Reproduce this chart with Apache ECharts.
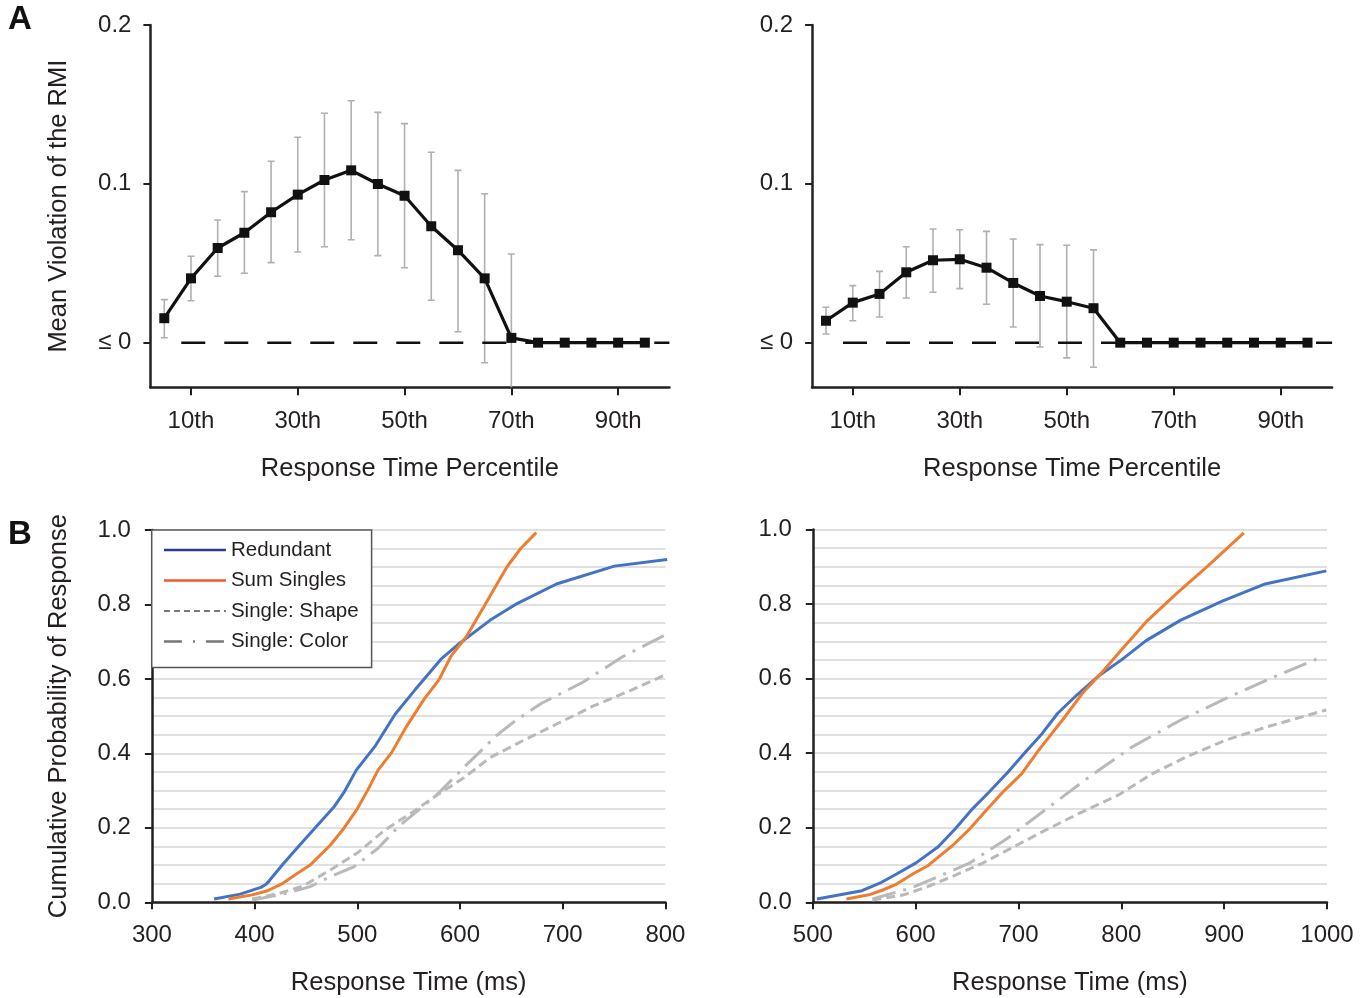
<!DOCTYPE html>
<html><head><meta charset="utf-8">
<script src="https://cdn.jsdelivr.net/npm/echarts@6.0.0/dist/echarts.min.js"></script>
<style>html,body{margin:0;padding:0;background:#fff}#c{width:1372px;height:998px}</style>
</head><body><div id="c"></div><script>
// ---------- Panel A data ----------
const percentiles = [5,10,15,20,25,30,35,40,45,50,55,60,65,70,75,80,85,90,95];
const percentileTicks = [10,30,50,70,90];
const meanLeftA = [0.0154,0.0405,0.0596,0.0692,0.0821,0.0932,0.1024,0.1085,0.0999,0.0925,0.0733,0.0582,0.0405,0.0030,0,0,0,0,0];
const upperLeftA = [0.0271,0.0544,0.0772,0.0951,0.1142,0.1293,0.1444,0.1523,0.1450,0.1379,0.1199,0.1085,0.0938,0.0558];
const lowerLeftA = [0.0031,0.0264,0.0418,0.0437,0.0504,0.0571,0.0604,0.0648,0.0548,0.0472,0.0267,0.0069,-0.0126,-0.035];
const meanRightA = [0.0138,0.0252,0.0307,0.0443,0.0519,0.0525,0.0472,0.0376,0.0294,0.0258,0.0217,0,0,0,0,0,0,0,0];
const upperRightA = [0.0223,0.0359,0.0449,0.0604,0.0716,0.0711,0.0701,0.0653,0.0617,0.0613,0.0584];
const lowerRightA = [0.0055,0.0138,0.0162,0.0281,0.0317,0.0340,0.0242,0.0099,-0.0027,-0.0096,-0.0155];
const yTicksA = [0, 0.1, 0.2];
const zeroLineRange = [5, 99.6];

// ---------- Panel B data: [ms, cumulative probability] ----------
const redundantLeft = [[360.6,0.009],[386,0.022],[406,0.040],[411.6,0.049],[427.5,0.102],[444,0.154],[460.6,0.205],[477,0.255],[487,0.295],[499,0.355],[517,0.418],[536.8,0.505],[556.6,0.572],[581.5,0.653],[599.7,0.696],[629.5,0.758],[656,0.803],[694,0.855],[750.3,0.903],[801.7,0.921]];
const sumSinglesLeft = [[374.5,0.009],[397.7,0.020],[412.6,0.031],[427.5,0.051],[440.7,0.076],[454,0.100],[473.8,0.154],[487,0.199],[499.3,0.248],[510.3,0.302],[520.2,0.355],[533.4,0.402],[546.7,0.467],[564.9,0.545],[579.8,0.599],[591.4,0.662],[606.3,0.714],[622.8,0.792],[636,0.855],[646,0.902],[659.3,0.951],[674.2,0.993]];
const shapeLeft = [[397.7,0.009],[424.2,0.024],[447.4,0.044],[473.8,0.087],[500.3,0.133],[526.8,0.194],[553.3,0.241],[576.5,0.286],[603,0.333],[629.5,0.389],[662.6,0.436],[695.7,0.481],[728.8,0.526],[765.2,0.568],[801.7,0.613]];
const colorLeft = [[397.7,0.006],[430.8,0.024],[454,0.042],[473.8,0.069],[497,0.096],[520.2,0.145],[540,0.203],[576.5,0.286],[606.3,0.369],[636,0.449],[652.6,0.485],[679,0.534],[718.9,0.590],[758.6,0.660],[801.7,0.721]];
const redundantRight = [[504,0.009],[547.8,0.031],[566.4,0.053],[581.5,0.076],[600,0.105],[622,0.149],[638.8,0.198],[655.7,0.252],[670.8,0.294],[689.4,0.348],[706.2,0.401],[723.1,0.453],[738.2,0.507],[756.7,0.556],[776.9,0.605],[800.5,0.651],[824.1,0.702],[857.8,0.757],[898.2,0.808],[938.7,0.853],[999.3,0.889]];
const sumSinglesRight = [[532.7,0.009],[554.6,0.020],[568,0.033],[581.5,0.049],[598.4,0.078],[611.9,0.098],[622,0.121],[635.4,0.151],[652.3,0.196],[669.1,0.248],[686,0.299],[702.8,0.344],[719.7,0.408],[743.3,0.491],[763.5,0.565],[780.3,0.614],[797.2,0.668],[824.1,0.752],[854.4,0.830],[884.8,0.904],[919.1,0.991]];
const shapeRight = [[558,0.006],[588.3,0.020],[611.9,0.042],[638.8,0.073],[665.8,0.106],[692.7,0.145],[723,0.189],[760.1,0.240],[797.2,0.288],[830.9,0.346],[864.6,0.392],[901.6,0.435],[942.1,0.471],[999.3,0.516]];
const colorRight = [[558,0.009],[595,0.038],[622,0.069],[652.3,0.105],[689.4,0.172],[729.8,0.256],[770.2,0.339],[810.6,0.417],[857.8,0.489],[905,0.551],[952.2,0.609],[995.9,0.659]];

const FONT = 'Liberation Sans, Arial, sans-serif';
const TXT = '#231f20';
const chart = echarts.init(document.getElementById('c'));

function errData(up, lo){ return up.map((u,i)=>[percentiles[i], u, lo[i]]); }
function errRender(params, api){
  const x = api.value(0);
  const p1 = api.coord([x, api.value(1)]);
  const p2 = api.coord([x, api.value(2)]);
  const w = 3.5;
  const st = {stroke:'#b0b0b0', lineWidth:1.6};
  return {type:'group', children:[
    {type:'line', shape:{x1:p1[0],y1:p1[1],x2:p2[0],y2:p2[1]}, style:st},
    {type:'line', shape:{x1:p1[0]-w,y1:p1[1],x2:p1[0]+w,y2:p1[1]}, style:st},
    {type:'line', shape:{x1:p2[0]-w,y1:p2[1],x2:p2[0]+w,y2:p2[1]}, style:st}
  ]};
}
const axisLine = {show:true, onZero:false, lineStyle:{color:'#231f20', width:2.5}};
function topX(i){ return {gridIndex:i, type:'value', min:2.4, max:99.6,
  axisLine:axisLine, splitLine:{show:false},
  axisTick:{show:true, customValues:percentileTicks, length:8, lineStyle:{width:2, color:'#231f20'}},
  axisLabel:{customValues:percentileTicks, formatter:v=>v+'th', fontSize:24, color:TXT, fontFamily:FONT, margin:22},
  name:'Response Time Percentile', nameLocation:'middle', nameGap:69,
  nameTextStyle:{fontSize:25.5, color:TXT, fontFamily:FONT}}; }
function topY(i, withName){ const a = {gridIndex:i, type:'value', min:-0.0281, max:0.2,
  axisLine:axisLine, splitLine:{show:false},
  axisTick:{show:true, customValues:yTicksA, length:7, lineStyle:{width:2, color:'#231f20'}},
  axisLabel:{customValues:yTicksA, formatter:v=>(v===0?'≤ 0':v.toFixed(1)), fontSize:24, color:TXT, fontFamily:FONT, margin:19}};
  if(withName){ Object.assign(a,{name:'Mean Violation of the RMI', nameLocation:'middle', nameGap:78, nameTextStyle:{fontSize:25.5,color:TXT,fontFamily:FONT}}); }
  return a; }
function botX(i, min, max){ return {gridIndex:i, type:'value', min:min, max:max, interval:100,
  axisLine:axisLine, splitLine:{show:false},
  axisTick:{show:true, length:7, lineStyle:{width:2, color:'#231f20'}},
  axisLabel:{formatter:v=>String(v), fontSize:24, color:TXT, fontFamily:FONT, margin:21},
  name:'Response Time (ms)', nameLocation:'middle', nameGap:68,
  nameTextStyle:{fontSize:25.5, color:TXT, fontFamily:FONT}}; }
function botY(i, withName){ const a = {gridIndex:i, type:'value', min:0, max:1, interval:0.2, splitNumber:4,
  axisLine:axisLine,
  splitLine:{show:true, lineStyle:{color:'#d6d6d6', width:1.5}},
  minorSplitLine:{show:true, lineStyle:{color:'#d6d6d6', width:1.5}},
  minorTick:{show:false, splitNumber:4},
  axisTick:{show:true, length:7, lineStyle:{width:2, color:'#231f20'}},
  axisLabel:{formatter:v=>v.toFixed(1), fontSize:24, color:TXT, fontFamily:FONT, margin:21}};
  if(withName){ Object.assign(a,{name:'Cumulative Probability of Response', nameLocation:'middle', nameGap:80, nameTextStyle:{fontSize:25.5,color:TXT,fontFamily:FONT}}); }
  return a; }
function meanSeries(i, vals){ return {type:'line', xAxisIndex:i, yAxisIndex:i, data:percentiles.map((p,k)=>[p, vals[k]]),
  symbol:'rect', symbolSize:10, itemStyle:{color:'#111'}, lineStyle:{color:'#111', width:3.2}, z:5, silent:true}; }
function zeroSeries(i){ return {type:'line', xAxisIndex:i, yAxisIndex:i, data:zeroLineRange.map(x=>[x,0]), symbol:'none',
  lineStyle:{color:'#111', width:2.5, type:[24,19], dashOffset:26}, z:3, silent:true}; }
function errSeries(i, up, lo){ return {type:'custom', xAxisIndex:i, yAxisIndex:i, data:errData(up,lo), renderItem:errRender, clip:true, z:2, silent:true}; }
const cdfStyles = {
  'Redundant': {color:'#4472c4', width:3, type:'solid'},
  'Sum Singles': {color:'#ed7d31', width:3, type:'solid'},
  'Single: Shape': {color:'#b9b9b9', width:3, type:[9,5]},
  'Single: Color': {color:'#b9b9b9', width:3, type:[24,8,3,8]}
};
function cdf(i, name, data){ return {type:'line', name:name, xAxisIndex:i, yAxisIndex:i, data:data, symbol:'none', smooth:false,
  lineStyle:cdfStyles[name], itemStyle:{color:cdfStyles[name].color}, z:(name==='Redundant'||name==='Sum Singles')?4:3, silent:true}; }

const option = {
  backgroundColor:'#fff',
  animation:false,
  textStyle:{fontFamily:FONT},
  grid:[
    {left:150.4, top:25, width:519, height:362.3},
    {left:812.1, top:25, width:520, height:362.3},
    {left:151.9, top:530, width:513.5, height:372.3},
    {left:812.8, top:529.5, width:514.2, height:372.8}
  ],
  xAxis:[topX(0), topX(1), botX(2,300,800), botX(3,500,1000)],
  yAxis:[topY(0,true), topY(1,false), botY(2,true), botY(3,false)],
  legend:{
    show:true, orient:'vertical', left:151.7, top:530, selectedMode:false,
    backgroundColor:'#fff', borderColor:'#555', borderWidth:1.5, borderRadius:0,
    padding:[9,13,15,11], itemGap:8.5, itemWidth:62, itemHeight:14,
    itemStyle:{opacity:0},
    textStyle:{fontSize:20.5, color:TXT, fontFamily:FONT, lineHeight:22},
    data:[
      {name:'Redundant', itemStyle:{opacity:0}, lineStyle:{color:'#2e3b94', width:2.5, type:'solid'}},
      {name:'Sum Singles', itemStyle:{opacity:0}, lineStyle:{color:'#f05a28', width:2.5, type:'solid'}},
      {name:'Single: Shape', itemStyle:{opacity:0}, lineStyle:{color:'#777', width:2, type:[6,4]}},
      {name:'Single: Color', itemStyle:{opacity:0}, lineStyle:{color:'#777', width:2.5, type:[18,11,2,11]}}
    ]
  },
  graphic:[
    {type:'text', left:8, top:3, style:{text:'A', font:'bold 33px '+FONT, fill:'#111'}},
    {type:'text', left:8, top:518, style:{text:'B', font:'bold 33px '+FONT, fill:'#111'}}
  ],
  series:[
    errSeries(0, upperLeftA, lowerLeftA), zeroSeries(0), meanSeries(0, meanLeftA),
    errSeries(1, upperRightA, lowerRightA), zeroSeries(1), meanSeries(1, meanRightA),
    cdf(2,'Single: Shape',shapeLeft), cdf(2,'Single: Color',colorLeft), cdf(2,'Redundant',redundantLeft), cdf(2,'Sum Singles',sumSinglesLeft),
    cdf(3,'Single: Shape',shapeRight), cdf(3,'Single: Color',colorRight), cdf(3,'Redundant',redundantRight), cdf(3,'Sum Singles',sumSinglesRight)
  ]
};
chart.setOption(option);
</script></body></html>
